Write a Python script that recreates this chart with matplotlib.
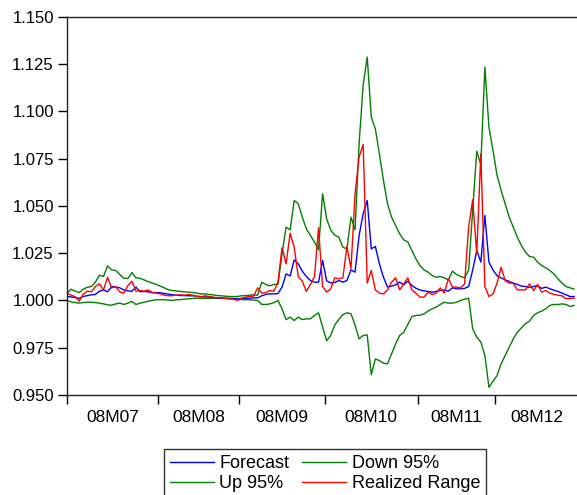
import numpy as np
import matplotlib
matplotlib.use("Agg")
import matplotlib.pyplot as plt

plt.rcParams['font.family'] = ['Liberation Sans', 'DejaVu Sans']

# daily values, Jul-Dec 2008
forecast = [1.0021, 1.0019, 1.0016, 1.0011, 1.0021, 1.0026, 1.0030, 1.0032, 1.0049, 1.0056,
            1.0046, 1.0074, 1.0071, 1.0067, 1.0056, 1.0051, 1.0049, 1.0071, 1.0046, 1.0048,
            1.0046, 1.0042, 1.0042, 1.0041, 1.0037, 1.0034, 1.0030, 1.0028, 1.0026, 1.0026,
            1.0025, 1.0025, 1.0023, 1.0021, 1.0019, 1.0018, 1.0016, 1.0014, 1.0012, 1.0011,
            1.0009, 1.0009, 1.0009, 1.0011, 1.0012, 1.0012, 1.0014, 1.0014, 1.0025, 1.0032,
            1.0035, 1.0035, 1.0037, 1.0071, 1.0141, 1.0130, 1.0215, 1.0194, 1.0155, 1.0127,
            1.0106, 1.0097, 1.0097, 1.0212, 1.0104, 1.0093, 1.0095, 1.0106, 1.0097, 1.0106,
            1.0162, 1.0150, 1.0344, 1.0459, 1.0529, 1.0273, 1.0286, 1.0194, 1.0123, 1.0071,
            1.0076, 1.0083, 1.0097, 1.0083, 1.0102, 1.0079, 1.0065, 1.0056, 1.0051, 1.0048,
            1.0044, 1.0048, 1.0053, 1.0055, 1.0049, 1.0067, 1.0062, 1.0062, 1.0064, 1.0074,
            1.0162, 1.0265, 1.0203, 1.0450, 1.0203, 1.0162, 1.0131, 1.0120, 1.0109, 1.0101,
            1.0092, 1.0085, 1.0076, 1.0074, 1.0069, 1.0074, 1.0078, 1.0064, 1.0071, 1.0062,
            1.0055, 1.0048, 1.0039, 1.0030, 1.0021, 1.0021]

down95 = [1.0000, 0.9993, 0.9989, 0.9986, 0.9989, 0.9991, 0.9991, 0.9989, 0.9986, 0.9982,
          0.9977, 0.9975, 0.9982, 0.9986, 0.9979, 0.9986, 0.9995, 0.9979, 0.9986, 0.9991,
          0.9996, 1.0000, 1.0004, 1.0004, 1.0004, 1.0002, 1.0000, 1.0004, 1.0005, 1.0007,
          1.0009, 1.0011, 1.0012, 1.0012, 1.0012, 1.0012, 1.0012, 1.0012, 1.0012, 1.0012,
          1.0012, 1.0011, 1.0009, 1.0005, 1.0004, 1.0004, 1.0002, 1.0000, 0.9979, 0.9979,
          0.9982, 0.9989, 1.0000, 0.9956, 0.9899, 0.9912, 0.9894, 0.9912, 0.9899, 0.9903,
          0.9903, 0.9921, 0.9935, 0.9860, 0.9787, 0.9815, 0.9870, 0.9900, 0.9925, 0.9935,
          0.9930, 0.9870, 0.9797, 0.9815, 0.9818, 0.9608, 0.9691, 0.9682, 0.9668, 0.9665,
          0.9718, 0.9771, 0.9815, 0.9832, 0.9873, 0.9915, 0.9921, 0.9922, 0.9929, 0.9944,
          0.9956, 0.9965, 0.9979, 0.9991, 0.9986, 0.9986, 0.9991, 1.0000, 1.0007, 1.0012,
          0.9850, 0.9806, 0.9780, 0.9709, 0.9541, 0.9573, 0.9603, 0.9665, 0.9709, 0.9753,
          0.9797, 0.9832, 0.9855, 0.9877, 0.9891, 0.9921, 0.9935, 0.9944, 0.9956, 0.9974,
          0.9979, 0.9979, 0.9982, 0.9979, 0.9968, 0.9974]

up95 = [1.0039, 1.0060, 1.0050, 1.0042, 1.0060, 1.0070, 1.0074, 1.0097, 1.0134, 1.0127,
        1.0183, 1.0162, 1.0159, 1.0138, 1.0118, 1.0116, 1.0148, 1.0120, 1.0118, 1.0109,
        1.0100, 1.0092, 1.0085, 1.0076, 1.0067, 1.0056, 1.0053, 1.0050, 1.0048, 1.0046,
        1.0044, 1.0042, 1.0039, 1.0035, 1.0035, 1.0032, 1.0030, 1.0026, 1.0025, 1.0023,
        1.0021, 1.0021, 1.0021, 1.0025, 1.0026, 1.0028, 1.0030, 1.0028, 1.0097, 1.0085,
        1.0078, 1.0085, 1.0085, 1.0247, 1.0388, 1.0374, 1.0529, 1.0512, 1.0441, 1.0379,
        1.0344, 1.0309, 1.0268, 1.0565, 1.0432, 1.0372, 1.0346, 1.0335, 1.0282, 1.0273,
        1.0441, 1.0374, 1.0830, 1.1140, 1.1288, 1.0970, 1.0909, 1.0776, 1.0635, 1.0512,
        1.0441, 1.0397, 1.0353, 1.0321, 1.0310, 1.0265, 1.0220, 1.0185, 1.0162, 1.0150,
        1.0132, 1.0123, 1.0127, 1.0120, 1.0109, 1.0155, 1.0138, 1.0127, 1.0120, 1.0160,
        1.0480, 1.0790, 1.0720, 1.1235, 1.0917, 1.0794, 1.0662, 1.0582, 1.0512, 1.0441,
        1.0388, 1.0335, 1.0291, 1.0256, 1.0233, 1.0229, 1.0203, 1.0185, 1.0173, 1.0159,
        1.0141, 1.0115, 1.0092, 1.0074, 1.0067, 1.0060]

realized = [1.0039, 1.0028, 1.0021, 0.9996, 1.0034, 1.0049, 1.0046, 1.0074, 1.0088, 1.0056,
            1.0123, 1.0067, 1.0074, 1.0046, 1.0039, 1.0079, 1.0102, 1.0049, 1.0053, 1.0049,
            1.0056, 1.0042, 1.0039, 1.0035, 1.0028, 1.0025, 1.0026, 1.0028, 1.0030, 1.0028,
            1.0032, 1.0028, 1.0021, 1.0019, 1.0025, 1.0021, 1.0018, 1.0014, 1.0014, 1.0012,
            1.0009, 1.0007, 1.0000, 1.0011, 1.0018, 1.0021, 1.0023, 1.0067, 1.0039, 1.0042,
            1.0053, 1.0049, 1.0097, 1.0279, 1.0194, 1.0356, 1.0282, 1.0127, 1.0102, 1.0048,
            1.0085, 1.0127, 1.0385, 1.0074, 1.0044, 1.0062, 1.0120, 1.0115, 1.0120, 1.0286,
            1.0168, 1.0564, 1.0759, 1.0826, 1.0092, 1.0159, 1.0056, 1.0039, 1.0035, 1.0056,
            1.0097, 1.0120, 1.0056, 1.0088, 1.0120, 1.0056, 1.0039, 1.0018, 1.0018, 1.0044,
            1.0032, 1.0039, 1.0067, 1.0039, 1.0115, 1.0071, 1.0071, 1.0067, 1.0088, 1.0388,
            1.0533, 1.0247, 1.0776, 1.0074, 1.0021, 1.0035, 1.0092, 1.0176, 1.0106, 1.0092,
            1.0092, 1.0056, 1.0056, 1.0056, 1.0088, 1.0053, 1.0085, 1.0044, 1.0053, 1.0039,
            1.0032, 1.0028, 1.0025, 1.0009, 1.0012, 1.0012]

months = ['08M07', '08M08', '08M09', '08M10', '08M11', '08M12']
month_start = [0, 23, 43, 64, 87, 106]   # index of first day in each month

x = np.arange(len(forecast))

fig = plt.figure(figsize=(5.77, 4.95), dpi=100)
ax = fig.add_axes([67/577, 100/495, 512/577, 378/495])

ax.plot(x, down95, color='#008000', lw=1.0, label='Down 95%')
ax.plot(x, up95, color='#008000', lw=1.0, label='Up 95%')
ax.plot(x, forecast, color='#0000ff', lw=1.0, label='Forecast')
ax.plot(x, realized, color='#ff0000', lw=1.0, label='Realized Range')

xmax = 126.2
ax.set_xlim(0, xmax)
ax.set_ylim(0.95, 1.15)
ax.set_yticks(np.arange(0.95, 1.1501, 0.025))
ax.yaxis.set_major_formatter(matplotlib.ticker.FormatStrFormatter('%.3f'))

bounds = [0] + [m - 0.5 for m in month_start[1:]] + [xmax]
ax.set_xticks(bounds[:-1])
ax.set_xticklabels([])
ax.set_xticks([(a + b) / 2 for a, b in zip(bounds[:-1], bounds[1:])], minor=True)
ax.set_xticklabels(months, minor=True)
ax.tick_params(axis='x', which='minor', length=0, pad=11, labelsize=12.5)
ax.tick_params(axis='y', labelsize=12)
ax.tick_params(axis='both', which='major', direction='out', length=6.5, width=1, pad=3)

for s in ax.spines.values():
    s.set_linewidth(1.0)
    s.set_color('#222222')

h, l = ax.get_legend_handles_labels()
order = [2, 1, 0, 3]   # Forecast, Up 95%, Down 95%, Realized Range
leg = fig.legend([h[i] for i in order], [l[i] for i in order], ncol=2,
                 loc='upper center', bbox_to_anchor=(325/577, 46/495),
                 bbox_transform=fig.transFigure, borderaxespad=0,
                 fontsize=13, frameon=True, fancybox=False, edgecolor='black',
                 handlelength=2.45, handletextpad=0.28, columnspacing=0.72,
                 labelspacing=0.15, borderpad=0.35)
leg.get_frame().set_linewidth(1.0)

fig.savefig('out.png', dpi=100)
